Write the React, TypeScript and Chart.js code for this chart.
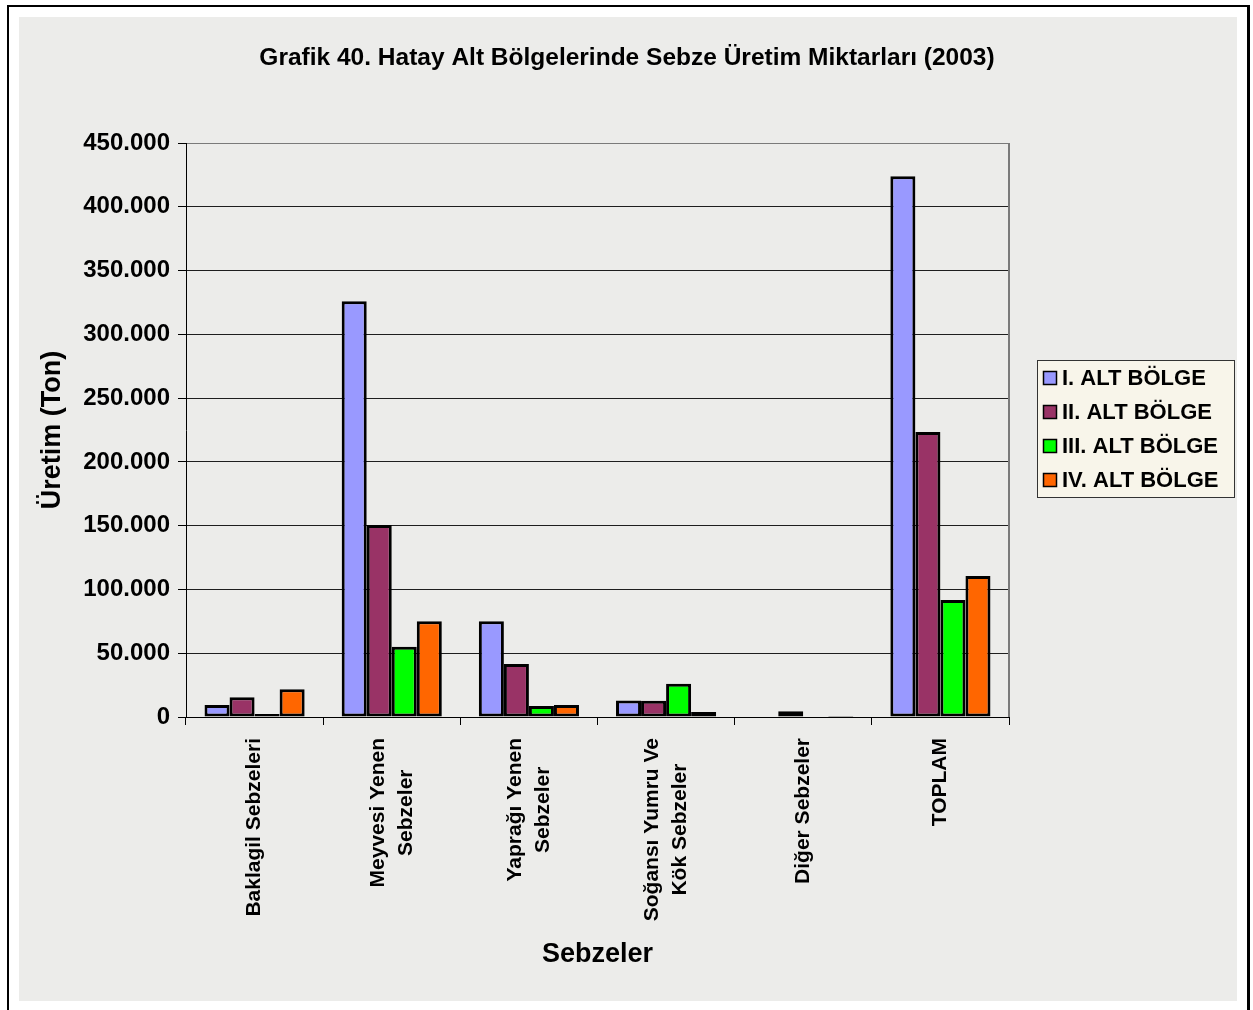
import { useEffect, useRef } from "react";
import { Chart, registerables } from "chart.js";

Chart.register(...registerables);

const TITLE = "Grafik 40. Hatay Alt Bölgelerinde Sebze Üretim Miktarları (2003)";
const Y_TITLE = "Üretim (Ton)";
const X_TITLE = "Sebzeler";
const CATEGORIES: string[][] = [
  ["Baklagil Sebzeleri"],
  ["Meyvesi Yenen", "Sebzeler"],
  ["Yaprağı Yenen", "Sebzeler"],
  ["Soğansı Yumru Ve", "Kök Sebzeler"],
  ["Diğer Sebzeler"],
  ["TOPLAM"],
];
const SERIES_NAMES = ["I. ALT BÖLGE", "II. ALT BÖLGE", "III. ALT BÖLGE", "IV. ALT BÖLGE"];
const ALT_1 = [9500, 326000, 75000, 13000, 0, 424000];
const ALT_2 = [15400, 150500, 41500, 12700, 4500, 223500];
const ALT_3 = [2300, 55000, 8600, 26100, 0, 91700];
const ALT_4 = [21700, 75000, 9400, 3900, 700, 110500];
const SERIES_COLORS = ["#9999ff", "#993366", "#00ff00", "#ff6600"];
const Y_MIN = 0;
const Y_MAX = 450000;
const Y_STEP = 50000;

const FONT = "'Liberation Sans', Arial, sans-serif";

function fmt(n: number): string {
  return String(Math.round(n)).replace(/\B(?=(\d{3})+(?!\d))/g, ".");
}

export default function App() {
  const ref = useRef<HTMLCanvasElement>(null);

  useEffect(() => {
    const canvas = ref.current!;
    const decor = {
      id: "decor",
      beforeDraw(chart: any) {
        const ctx = chart.ctx;
        ctx.save();
        ctx.fillStyle = "#ffffff";
        ctx.fillRect(0, 0, chart.width, chart.height);
        ctx.fillStyle = "#ececea";
        ctx.fillRect(19, 17, 1218, 984);
        ctx.fillStyle = "#000000";
        ctx.fillRect(7, 5, 1243, 2);
        ctx.fillRect(7, 5, 2, 1005);
        ctx.fillRect(1247, 5, 3, 1005);
        ctx.restore();
      },
      beforeDatasetsDraw(chart: any) {
        const ctx = chart.ctx;
        const a = chart.chartArea;
        ctx.save();
        ctx.strokeStyle = "#7a7a7a";
        ctx.lineWidth = 2;
        ctx.beginPath();
        ctx.moveTo(a.right, a.top);
        ctx.lineTo(a.right, a.bottom);
        ctx.stroke();
        ctx.restore();
      },
      afterDraw(chart: any) {
        const ctx = chart.ctx;
        const xs = chart.scales.x;
        ctx.save();
        // category labels, rotated, centred lines
        ctx.font = `bold 21px ${FONT}`;
        ctx.fillStyle = "#000";
        ctx.textAlign = "center";
        ctx.textBaseline = "middle";
        const lh = 28;
        const top = 738;
        (chart.data.labels as string[][]).forEach((lines, i) => {
          const x = xs.getPixelForValue(i);
          const maxW = Math.max(...lines.map((l) => ctx.measureText(l).width));
          ctx.save();
          ctx.translate(x, top + maxW / 2);
          ctx.rotate(-Math.PI / 2);
          lines.forEach((l, j) => {
            ctx.fillText(l, 0, (j - (lines.length - 1) / 2) * lh);
          });
          ctx.restore();
        });
        // legend
        const lx = 1037.5, ly = 360.5, lw = 197, lhh = 137;
        ctx.fillStyle = "#f8f5ea";
        ctx.fillRect(lx, ly, lw, lhh);
        ctx.strokeStyle = "#333";
        ctx.lineWidth = 1;
        ctx.strokeRect(lx, ly, lw, lhh);
        ctx.font = `bold 22px ${FONT}`;
        ctx.textAlign = "left";
        ctx.textBaseline = "middle";
        chart.data.datasets.forEach((ds: any, i: number) => {
          const cy = 378 + i * 34;
          ctx.fillStyle = ds.backgroundColor;
          ctx.fillRect(1043.5, cy - 6.5, 13, 13);
          ctx.strokeStyle = "#000";
          ctx.lineWidth = 1.5;
          ctx.strokeRect(1043.5, cy - 6.5, 13, 13);
          ctx.fillStyle = "#000";
          ctx.fillText(ds.label, 1062, cy + 1);
        });
        ctx.restore();
      },
    };

    const seriesValues = [ALT_1, ALT_2, ALT_3, ALT_4];
    const chart = new Chart(canvas, {
      type: "bar",
      data: {
        labels: CATEGORIES as any,
        datasets: SERIES_NAMES.map((name, i) => ({
          label: name,
          data: seriesValues[i],
          backgroundColor: SERIES_COLORS[i],
          borderColor: "#000000",
          borderWidth: 3,
          borderSkipped: false,
          categoryPercentage: 0.73,
          barPercentage: 1.0,
        })),
      },
      options: {
        responsive: false,
        animation: false,
        devicePixelRatio: 1,
        layout: { padding: { left: 19, right: 18, top: 17, bottom: 10 } },
        plugins: {
          legend: { display: false },
          tooltip: { enabled: false },
          title: {
            display: true,
            text: TITLE,
            color: "#000",
            font: { family: FONT, size: 24.5, weight: "bold" },
            padding: { top: 26.3, bottom: 70.3 },
          },
        },
        scales: {
          x: {
            offset: true,
            grid: {
              display: true,
              drawOnChartArea: false,
              drawTicks: true,
              tickLength: 8,
              color: "#000",
              offset: true,
            },
            border: { display: true, color: "#000", width: 1 },
            ticks: { display: false },
            title: {
              display: true,
              text: X_TITLE,
              color: "#000",
              font: { family: FONT, size: 27, weight: "bold" },
              padding: { top: 0, bottom: 28.8 },
            },
            afterFit: (s: any) => {
              s.height = 283;
            },
          },
          y: {
            min: Y_MIN,
            max: Y_MAX,
            ticks: {
              stepSize: Y_STEP,
              color: "#000",
              padding: 8,
              font: { family: FONT, size: 24, weight: "bold" },
              callback: (v: any) => fmt(Number(v)),
            },
            grid: {
              color: (c: any) => (c.tick && c.tick.value === Y_MAX ? "#7a7a7a" : "#1e1e1e"),
              tickColor: "#000",
              tickLength: 8,
              lineWidth: 1,
            },
            border: { display: true, color: "#000", width: 1 },
            title: {
              display: true,
              text: Y_TITLE,
              color: "#000",
              font: { family: FONT, size: 27, weight: "bold" },
              padding: { top: 17.8, bottom: 0 },
            },
            afterFit: (s: any) => {
              s.width = 167;
            },
          },
          yRightSpace: {
            position: "right",
            display: true,
            grid: { display: false },
            ticks: { display: false },
            border: { display: false },
            afterFit: (s: any) => {
              s.width = 226;
            },
          },
        },
      } as any,
      plugins: [decor],
    });
    return () => chart.destroy();
  }, []);

  return (
    <div style={{ position: "absolute", left: 0, top: 0, width: 1253, height: 1010 }}>
      <canvas ref={ref} width={1253} height={1010} style={{ display: "block" }} />
    </div>
  );
}
